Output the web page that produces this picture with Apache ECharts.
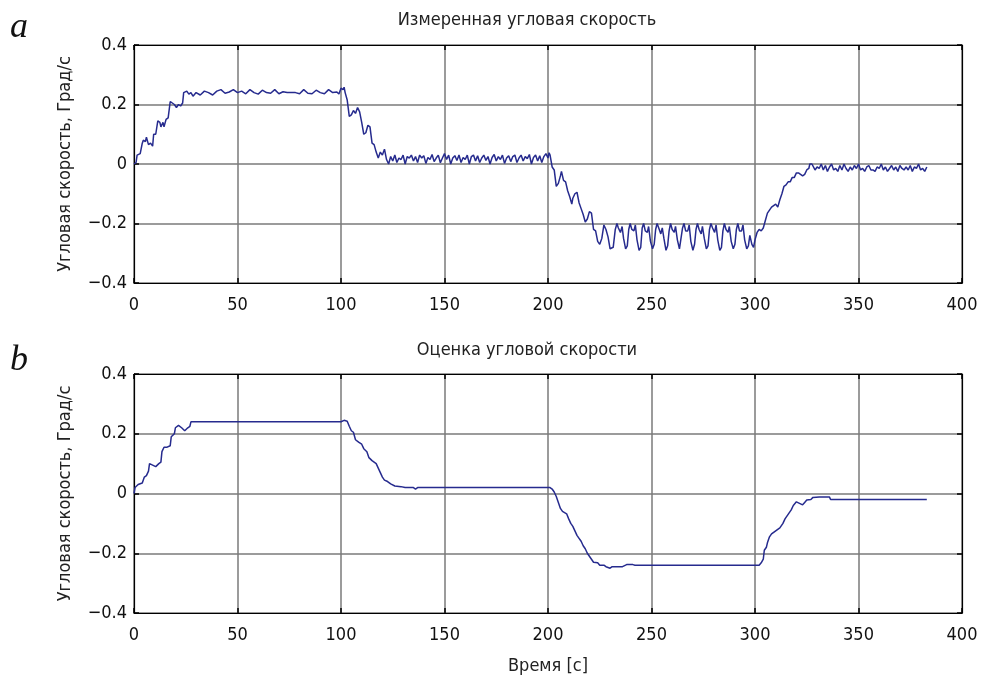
<!DOCTYPE html>
<html>
<head>
<meta charset="utf-8">
<script src="https://cdn.jsdelivr.net/npm/echarts@6/dist/echarts.min.js"></script>
<style>
  html, body { margin: 0; padding: 0; background: #fff; }
  #chart { width: 982px; height: 679px; }
</style>
</head>
<body>
<div id="chart"></div>
<script>
// measured angular speed, [time s, deg/s]
const measured = [
  [0,0],[1,0.005],[1.5,0.03],[3,0.035],[4,0.07],[4.5,0.08],[5.5,0.075],[6,0.09],[7,0.065],[8,0.07],[9,0.06],
  [9.5,0.1],[10.5,0.1],[11.5,0.145],[12.5,0.14],[13,0.125],[14,0.14],[14.5,0.125],[15.5,0.15],[16.5,0.155],
  [17.5,0.21],[18.5,0.205],[19.5,0.2],[20.5,0.19],[21.5,0.2],[22.5,0.195],[23.5,0.205],[24,0.24],[25.5,0.245],
  [26.5,0.235],[27.5,0.24],[28.5,0.228],[30,0.24],[32,0.232],[34,0.245],[36,0.24],[38,0.232],[40,0.245],[42,0.25],
  [44,0.238],[46,0.242],[48,0.25],[50,0.24],[52,0.245],[54,0.236],[56,0.25],[58,0.24],[60,0.235],[62,0.248],
  [64,0.24],[66,0.238],[68,0.25],[70,0.236],[72,0.243],[74,0.24],[76,0.24],[78,0.24],[80,0.236],[82,0.25],
  [84,0.238],[86,0.236],[88,0.248],[90,0.24],[92,0.236],[94,0.25],[96,0.24],[98,0.242],[99,0.235],[100,0.255],
  [101,0.25],[101.5,0.258],[102,0.24],[103,0.215],[104,0.16],[105,0.165],[106,0.18],[107,0.17],[108,0.19],
  [109,0.175],[110,0.14],[111,0.1],[112,0.105],[113,0.13],[114,0.125],[115,0.07],[116,0.065],[117,0.04],
  [118,0.02],[119,0.04],[120,0.03],[121,0.05],[122,0.015],[123,0],[124,0.025],[125,0.01],[126,0.03],[127,0.005],
  [128,0.02],[129,0.015],[130,0.03],[131,0],[132,0.025],[133,0.02],[134,0.03],[135,0.01],[136,0.025],[137,0.005],
  [138,0.03],[139,0.02],[140,0.028],[141,0.002],[142,0.022],[143,0.015],[144,0.032],[145,0.008],[146,0.02],
  [147,0.03],[148,0.004],[149,0.02],[150,0.035],[151,0.015],[152,0.03],[153,0],[154,0.02],[155,0.028],
  [156,0.012],[157,0.03],[158,0.005],[159,0.022],[160,0.015],[161,0.03],[162,0],[163,0.025],[164,0.03],
  [165,0.01],[166,0.028],[167,0.005],[168,0.02],[169,0.03],[170,0.012],[171,0.025],[172,0],[173,0.022],
  [174,0.032],[175,0.01],[176,0.025],[177,0.015],[178,0.03],[179,0.002],[180,0.02],[181,0.028],[182,0.008],
  [183,0.025],[184,0.03],[185,0.005],[186,0.02],[187,0.03],[188,0.01],[189,0.025],[190,0.018],[191,0.032],
  [192,0],[193,0.022],[194,0.03],[195,0.01],[196,0.028],[197,0.005],[198,0.025],[199,0.035],[200,0.02],
  [200.5,0.038],[201,0.03],[202,-0.01],[203,-0.02],[204,-0.075],[205,-0.065],[206,-0.04],[206.5,-0.025],
  [207.5,-0.055],[208.5,-0.06],[209.5,-0.09],[210.5,-0.11],[211.5,-0.135],[212,-0.115],[213,-0.1],[214,-0.095],
  [215,-0.13],[216,-0.15],[217,-0.17],[218,-0.195],[219,-0.185],[220,-0.16],[221,-0.165],[222,-0.22],
  [223,-0.225],[224,-0.26],[225,-0.27],[226,-0.25],[227,-0.205],[228,-0.22],[229,-0.245],[230,-0.285],
  [231.5,-0.28],[232.5,-0.22],[233.3,-0.2],[234,-0.215],[235,-0.23],[235.8,-0.21],[236.5,-0.25],[237.5,-0.285],
  [238.3,-0.275],[239,-0.22],[239.7,-0.2],[240.5,-0.22],[241.5,-0.225],[242.2,-0.205],[243,-0.255],[244,-0.29],
  [244.8,-0.28],[245.5,-0.215],[246.2,-0.2],[247,-0.225],[248,-0.23],[248.6,-0.21],[249.5,-0.26],[250.5,-0.285],
  [251.3,-0.27],[252,-0.22],[252.7,-0.2],[253.5,-0.215],[254.5,-0.235],[255.2,-0.215],[256,-0.25],[257,-0.29],
  [257.8,-0.275],[258.5,-0.225],[259.2,-0.2],[260,-0.22],[261,-0.23],[261.6,-0.21],[262.5,-0.255],[263.5,-0.285],
  [264.3,-0.28],[265,-0.215],[265.7,-0.2],[266.5,-0.225],[267.5,-0.225],[268.2,-0.205],[269,-0.26],[270,-0.29],
  [270.8,-0.27],[271.5,-0.22],[272.2,-0.2],[273,-0.22],[274,-0.235],[274.6,-0.21],[275.5,-0.25],[276.5,-0.285],
  [277.3,-0.275],[278,-0.22],[278.7,-0.2],[279.5,-0.215],[280.5,-0.23],[281.2,-0.205],[282,-0.255],[283,-0.29],
  [283.8,-0.28],[284.5,-0.225],[285.2,-0.2],[286,-0.22],[287,-0.23],[287.6,-0.21],[288.5,-0.26],[289.5,-0.285],
  [290.3,-0.27],[291,-0.22],[291.7,-0.2],[292.5,-0.225],[293.5,-0.225],[294.2,-0.205],[295,-0.255],[296,-0.285],
  [296.8,-0.275],[297.5,-0.24],[298.5,-0.27],[299.3,-0.28],[300,-0.255],[301,-0.23],[302,-0.22],[303,-0.225],
  [304,-0.215],[305,-0.19],[306,-0.165],[307,-0.155],[308,-0.145],[309,-0.14],[310,-0.135],[311,-0.145],
  [312,-0.12],[313,-0.1],[314,-0.075],[315,-0.07],[316,-0.06],[317,-0.06],[318,-0.045],[319,-0.045],[320,-0.03],
  [321,-0.03],[322,-0.035],[323,-0.04],[324,-0.035],[325,-0.02],[326,-0.015],[326.5,0],[327.5,0],[328,-0.005],
  [329,-0.02],[330,-0.01],[331,-0.015],[332,0],[333,-0.02],[334,-0.005],[335,-0.025],[336,-0.01],[337,0],
  [338,-0.02],[339,-0.015],[340,-0.025],[341,-0.005],[342,-0.02],[343,0],[344,-0.015],[345,-0.025],[346,-0.01],
  [347,-0.02],[348,-0.005],[349,-0.015],[350,0],[351,-0.02],[352,-0.015],[353,-0.025],[354,-0.01],[355,-0.005],
  [356,-0.02],[357,-0.02],[358,-0.025],[359,-0.01],[360,-0.015],[361,0],[362,-0.02],[363,-0.01],[364,-0.025],
  [365,-0.015],[366,-0.005],[367,-0.02],[368,-0.01],[369,-0.025],[370,-0.005],[371,-0.015],[372,-0.02],
  [373,-0.01],[374,-0.02],[375,-0.005],[376,-0.025],[377,-0.01],[378,-0.015],[379,0],[380,-0.02],[381,-0.015],
  [382,-0.025],[383,-0.01]
];

// estimated angular speed, [time s, deg/s]
const estimate = [
  [0,0],[0.5,0.02],[2,0.03],[4,0.035],[5,0.055],[6,0.06],[7,0.075],[7.5,0.1],[9,0.095],[10.5,0.09],[12,0.1],
  [13,0.105],[13.5,0.14],[14.5,0.155],[16,0.155],[17.5,0.16],[18,0.19],[19.5,0.2],[20,0.22],[21.5,0.228],
  [23,0.22],[24.5,0.21],[26,0.22],[27,0.225],[27.5,0.24],[30,0.24],[100,0.24],[101.5,0.245],[103,0.242],
  [104,0.225],[105,0.21],[106,0.205],[107,0.18],[108.5,0.172],[110,0.165],[111,0.15],[112.5,0.14],[113.5,0.12],
  [115,0.11],[117,0.1],[118,0.085],[119,0.07],[120,0.055],[121,0.045],[122.5,0.04],[124,0.032],[126,0.025],
  [129,0.023],[131,0.02],[135,0.02],[136,0.015],[137,0.02],[201,0.02],[202,0.015],[203,0.005],[204,-0.01],
  [205,-0.03],[206,-0.05],[207,-0.06],[209,-0.068],[210,-0.085],[211,-0.1],[212,-0.11],[213,-0.125],[214,-0.14],
  [215,-0.15],[216,-0.16],[217,-0.175],[218,-0.185],[219,-0.2],[220,-0.21],[221,-0.22],[222,-0.23],[224,-0.232],
  [225,-0.24],[227,-0.24],[228,-0.245],[230,-0.25],[231,-0.245],[236,-0.245],[238,-0.238],[241,-0.238],
  [242,-0.24],[248,-0.24],[302,-0.24],[303,-0.232],[304,-0.22],[304.5,-0.19],[305.5,-0.18],[306,-0.165],
  [307,-0.145],[308,-0.135],[310,-0.125],[312,-0.115],[313.5,-0.1],[314.5,-0.085],[315.5,-0.075],[316.5,-0.065],
  [317.5,-0.055],[318.5,-0.04],[320,-0.028],[321.5,-0.033],[323,-0.038],[324,-0.03],[325,-0.022],[327,-0.02],
  [328,-0.013],[331,-0.012],[336,-0.012],[336.5,-0.02],[383,-0.02]
];

const panelTitles = ["Измеренная угловая скорость", "Оценка угловой скорости"];
const panelLetters = ["a", "b"];
const yName = "Угловая скорость, Град/с";
const xName = "Время [с]";

// pick a narrow sans if the machine has one
const hasFont = (name) => {
  const ctx = document.createElement("canvas").getContext("2d");
  const s = "Измеренная WwMm 0123456789";
  ctx.font = "40px monospace";
  const a = ctx.measureText(s).width;
  ctx.font = "40px '" + name + "', monospace";
  return ctx.measureText(s).width !== a;
};
const narrow = hasFont("Liberation Sans Narrow");
const font = narrow ? "'Liberation Sans Narrow', sans-serif" : "'DejaVu Sans Condensed', sans-serif";
const fs = narrow ? 22 : 18;
const lineColor = "#262b8e";

const chart = echarts.init(document.getElementById("chart"), null, { width: 982, height: 679 });

const grids = [
  { left: 134, top: 45, width: 828, height: 238 },
  { left: 134, top: 374, width: 828, height: 239 },
];

const tick = { show: true, inside: true, length: 5, lineStyle: { color: "#000", width: 1.5 } };
const axisLine = { show: true, onZero: false, lineStyle: { color: "#000", width: 1.2 } };
const gridLine = { show: true, lineStyle: { color: "#7a7a7a", width: 1.5 } };

const xAxes = [];
const yAxes = [];
grids.forEach((g, i) => {
  xAxes.push({
    type: "value", gridIndex: i, min: 0, max: 400, interval: 50, position: "bottom",
    name: i === 1 ? xName : "", nameLocation: "middle", nameGap: narrow ? 42 : 44,
    nameTextStyle: { fontFamily: font, fontSize: fs, color: "#222" },
    axisLine, axisTick: tick, splitLine: gridLine,
    axisLabel: { fontFamily: font, fontSize: fs, color: "#111", margin: narrow ? 12 : 13 },
  });
  xAxes.push({
    type: "value", gridIndex: i, min: 0, max: 400, interval: 50, position: "top",
    axisLine, axisTick: tick, axisLabel: { show: false }, splitLine: { show: false },
  });
  yAxes.push({
    type: "value", gridIndex: i, min: -0.4, max: 0.4, interval: 0.2, position: "left",
    name: yName, nameLocation: "middle", nameGap: narrow ? 58 : 60,
    nameTextStyle: { fontFamily: font, fontSize: fs, color: "#222" },
    axisLine, axisTick: tick, splitLine: gridLine,
    axisLabel: {
      fontFamily: font, fontSize: fs, color: "#111", margin: 7,
      formatter: (v) => v === 0 ? "0" : (v < 0 ? "\u2212" + Math.abs(v).toFixed(1) : v.toFixed(1)),
    },
  });
  yAxes.push({
    type: "value", gridIndex: i, min: -0.4, max: 0.4, interval: 0.2, position: "right",
    axisLine, axisTick: tick, axisLabel: { show: false }, splitLine: { show: false },
  });
});

const titleStyle = { fontFamily: font, fontSize: fs, fontWeight: "normal", color: "#222" };
const letterStyle = { fontFamily: "'Liberation Serif', serif", fontStyle: "italic", fontSize: 36, fontWeight: "normal", color: "#111" };

const option = {
  backgroundColor: "#fff",
  animation: false,
  title: [
    { text: panelTitles[0], left: 527, top: 11, padding: 0, textAlign: "center", textStyle: titleStyle },
    { text: panelTitles[1], left: 527, top: 341, padding: 0, textAlign: "center", textStyle: titleStyle },
    { text: panelLetters[0], left: 10, top: 10, padding: 0, textStyle: letterStyle },
    { text: panelLetters[1], left: 10, top: 343, padding: 0, textStyle: letterStyle },
  ],
  grid: grids,
  xAxis: xAxes,
  yAxis: yAxes,
  series: [
    { type: "line", xAxisIndex: 0, yAxisIndex: 0, data: measured, showSymbol: false,
      lineStyle: { color: lineColor, width: 1.5 } },
    { type: "line", xAxisIndex: 2, yAxisIndex: 2, data: estimate, showSymbol: false,
      lineStyle: { color: lineColor, width: 1.5 } },
  ],
};

chart.setOption(option);
</script>
</body>
</html>
